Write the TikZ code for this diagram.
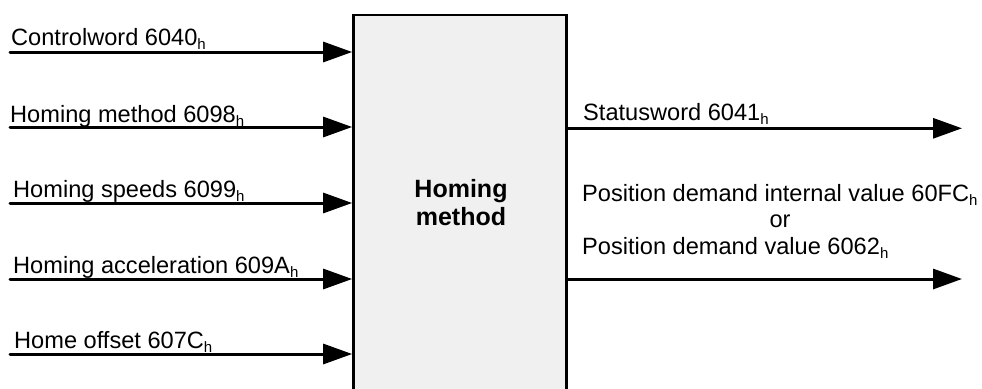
\documentclass[tikz,border=0pt]{standalone}
\usepackage{fontspec}
\setmainfont{Liberation Sans}
\usetikzlibrary{arrows.meta}
\newcommand{\hsub}{\raisebox{-4pt}{\fontsize{15}{15}\selectfont h}}
\begin{document}
\begin{tikzpicture}[x=1pt,y=-1pt,
  lbl/.style={anchor=base west,inner sep=0pt,font=\fontsize{23.6}{27}\selectfont},
  ttl/.style={anchor=base,inner sep=0pt,font=\fontsize{25}{29}\selectfont\bfseries},
  conn/.style={line width=3pt,line cap=round,-{Triangle[length=29pt,width=20pt]}},
  blockbox/.style={draw,line width=2.7pt,fill={rgb,255:red,240;green,240;blue,240},minimum width=213pt,minimum height=405pt,inner sep=0pt}]
\useasboundingbox (0,0) rectangle (982,388);
\clip (0,0) rectangle (982,388);
\node[blockbox] (box) at (460,217.5) {};
\node[ttl] (t1) at (461,197) {Homing};
\node[ttl] (t2) at (461,225) {method};
% inputs
\coordinate (in1) at (10,52);
\coordinate (in2) at (10,127);
\coordinate (in3) at (10,203);
\coordinate (in4) at (10,279);
\coordinate (in5) at (10,354);
\node[lbl] (l1) at (11,45.7) {Controlword 6040\hsub};
\node[lbl] (l2) at (10,122.3) {Homing method 6098\hsub};
\node[lbl] (l3) at (13,197.7) {Homing speeds 6099\hsub};
\node[lbl] (l4) at (13,273.3) {Homing acceleration 609A\hsub};
\node[lbl] (l5) at (14,348.3) {Home offset 607C\hsub};
\foreach \i in {1,...,5} \draw[conn] (in\i) -- (in\i -| box.west);
% outputs
\coordinate (out1) at (962,128.3);
\coordinate (out2) at (962,279);
\node[lbl] (r1) at (583,120.7) {Statusword 6041\hsub};
\node[lbl] (r2) at (582,201) {Position demand internal value 60FC\hsub};
\node[lbl,anchor=base] (r3) at (780,227.5) {or};
\node[lbl] (r4) at (582,254) {Position demand value 6062\hsub};
\draw[conn] (out1 -| box.east) -- (out1);
\draw[conn] (out2 -| box.east) -- (out2);
\end{tikzpicture}
\end{document}
